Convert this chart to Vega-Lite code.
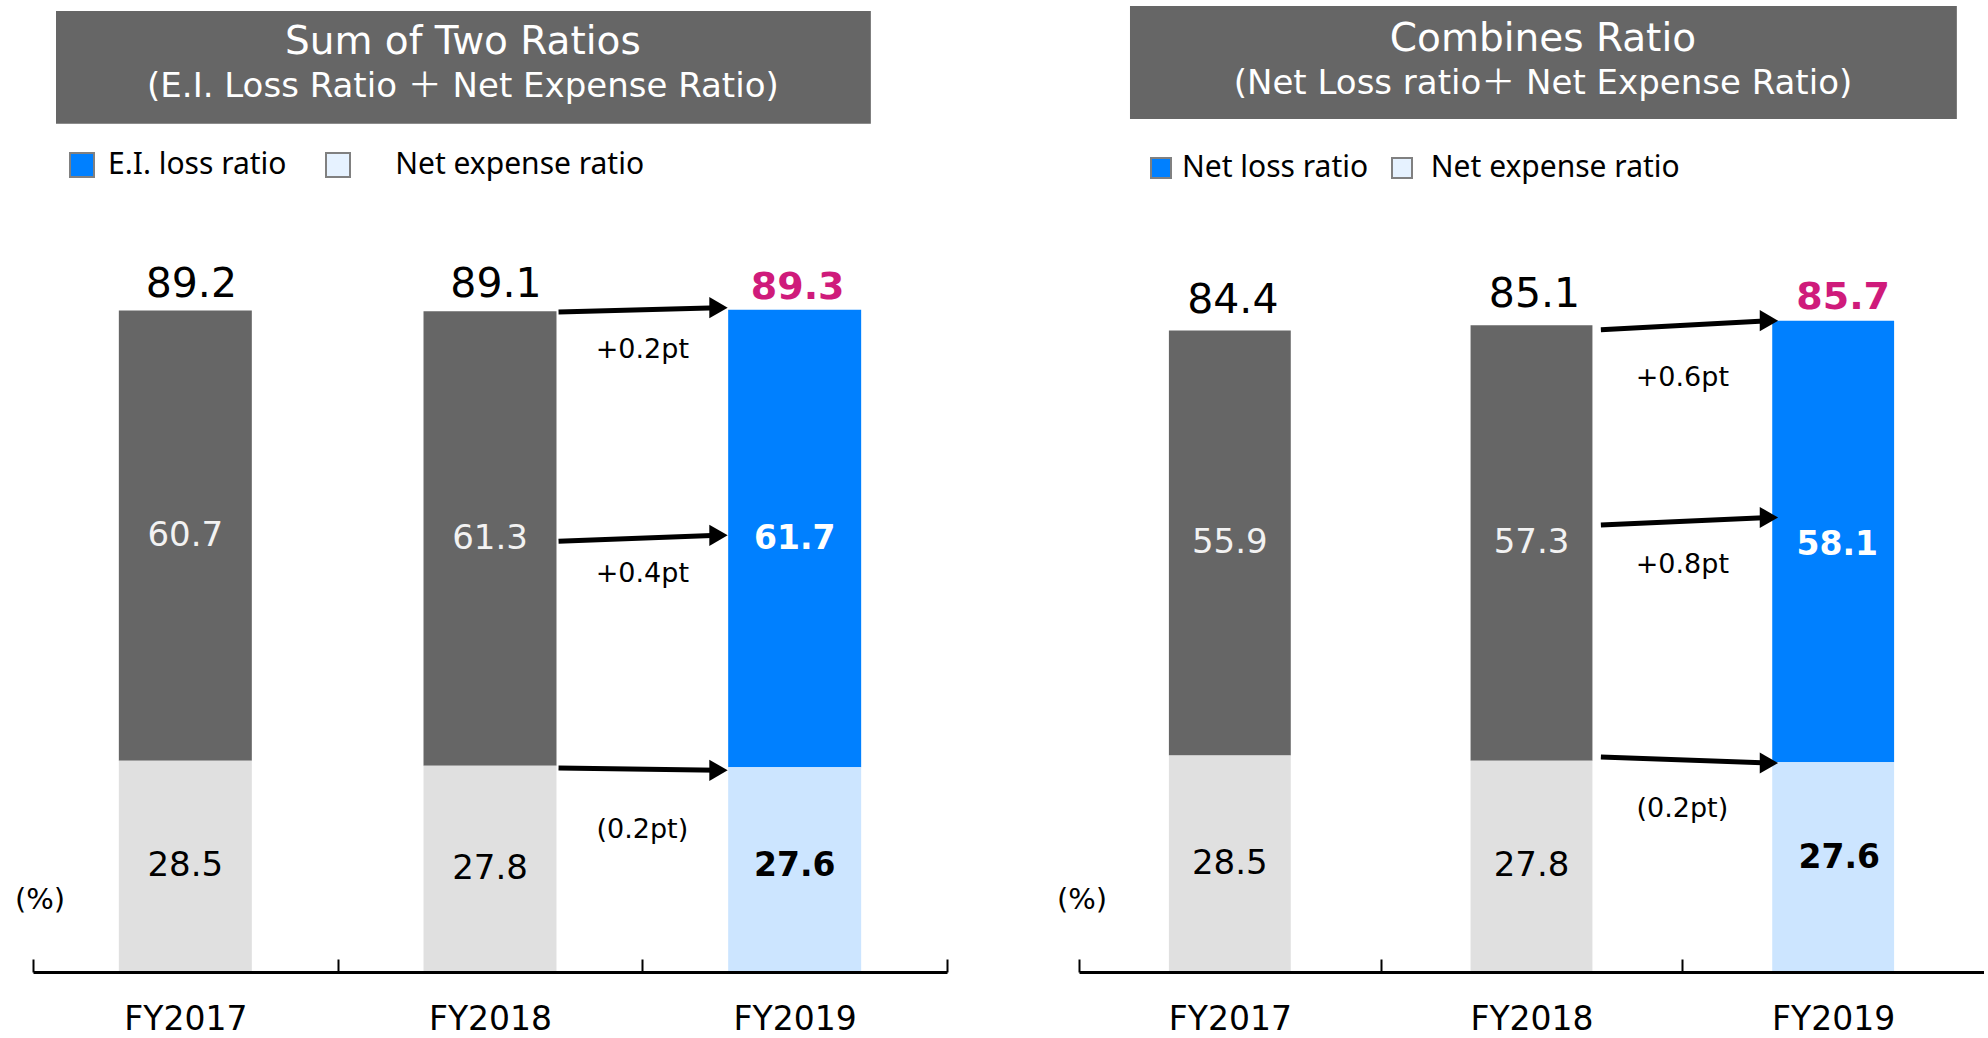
{
  "$schema": "https://vega.github.io/schema/vega-lite/v6.json",
  "background": "white",
  "padding": {"left": 14, "top": 6, "right": 0, "bottom": 0},
  "bounds": "flush",
  "spacing": 132,
  "datasets": {
    "sum": [
      {"year": "FY2017", "series": "E.I. loss ratio", "value": 60.7},
      {"year": "FY2017", "series": "Net expense ratio", "value": 28.5},
      {"year": "FY2018", "series": "E.I. loss ratio", "value": 61.3},
      {"year": "FY2018", "series": "Net expense ratio", "value": 27.8},
      {"year": "FY2019", "series": "E.I. loss ratio", "value": 61.7},
      {"year": "FY2019", "series": "Net expense ratio", "value": 27.6}
    ],
    "combined": [
      {"year": "FY2017", "series": "Net loss ratio", "value": 55.9},
      {"year": "FY2017", "series": "Net expense ratio", "value": 28.5},
      {"year": "FY2018", "series": "Net loss ratio", "value": 57.3},
      {"year": "FY2018", "series": "Net expense ratio", "value": 27.8},
      {"year": "FY2019", "series": "Net loss ratio", "value": 58.1},
      {"year": "FY2019", "series": "Net expense ratio", "value": 27.6}
    ],
    "arrowsL": [
      {"from": "FY2018", "to": "FY2019", "y1": 89.0, "y2": 89.6, "label": "+0.2pt", "ly": 83.9},
      {"from": "FY2018", "to": "FY2019", "y1": 58.1, "y2": 58.9, "label": "+0.4pt", "ly": 53.7},
      {"from": "FY2018", "to": "FY2019", "y1": 27.5, "y2": 27.2, "label": "(0.2pt)", "ly": 19.2}
    ],
    "arrowsR": [
      {"from": "FY2018", "to": "FY2019", "y1": 84.5, "y2": 85.7, "label": "+0.6pt", "ly": 78.2},
      {"from": "FY2018", "to": "FY2019", "y1": 58.8, "y2": 59.8, "label": "+0.8pt", "ly": 53.6},
      {"from": "FY2018", "to": "FY2019", "y1": 28.3, "y2": 27.5, "label": "(0.2pt)", "ly": 21.4}
    ]
  },
  "hconcat": [
    {
      "width": 914,
      "height": 966,
      "data": {"name": "sum"},
      "layer": [
        {
          "data": {"values": [{}]},
          "mark": {"type": "rect", "color": "#666666"},
          "encoding": {
            "x": {"datum": "FY2017", "bandPosition": 0.0755},
            "x2": {"datum": "FY2019", "bandPosition": 0.75},
            "y": {"datum": 129.6, "axis": null},
            "y2": {"datum": 114.4}
          }
        },
        {
          "data": {"values": [{}]},
          "mark": {"type": "text", "text": "Sum of Two Ratios", "font": "DejaVu Sans", "fontSize": 39, "color": "#FFFFFF", "baseline": "middle", "align": "center"},
          "encoding": {
            "x": {"datum": "FY2018", "bandPosition": 0.411},
            "y": {"datum": 125.4, "axis": null}
          }
        },
        {
          "data": {"values": [{}]},
          "mark": {"type": "text", "text": "(E.I. Loss Ratio ＋ Net Expense Ratio)", "font": "DejaVu Sans, Noto Sans CJK JP", "fontSize": 34, "color": "#FFFFFF", "baseline": "middle", "align": "center"},
          "encoding": {
            "x": {"datum": "FY2018", "bandPosition": 0.411},
            "y": {"datum": 119.35, "axis": null}
          }
        },
        {
          "mark": {"type": "bar", "width": {"band": 0.4365}},
          "encoding": {
            "x": {
              "field": "year", "type": "nominal", "sort": null,
              "scale": {"paddingInner": 0, "paddingOuter": 0},
              "axis": {"title": null, "domainColor": "#000000", "domainWidth": 3, "tickColor": "#000000", "tickWidth": 2, "tickSize": -13, "tickBand": "extent", "labelPadding": 60, "labelBaseline": "middle", "labelAlign": "center", "labelFontSize": 33, "labelColor": "#000000", "labelAngle": 0, "labelFont": "DejaVu Sans"}
            },
            "y": {"field": "value", "type": "quantitative", "stack": "zero", "scale": {"domain": [0, 130.28], "nice": false, "zero": true}, "axis": null},
            "color": {
              "field": "series", "type": "nominal",
              "scale": {"domain": ["E.I. loss ratio", "Net expense ratio"], "range": ["#0080FF", "#E6F2FF"]},
              "condition": [
                {"test": "datum.year !== 'FY2019' && datum.series === 'E.I. loss ratio'", "value": "#666666"},
                {"test": "datum.year !== 'FY2019' && datum.series === 'Net expense ratio'", "value": "#E0E0E0"},
                {"test": "datum.year === 'FY2019' && datum.series === 'Net expense ratio'", "value": "#CCE5FF"}
              ],
              "legend": {
                "orient": "none", "legendX": 34, "legendY": 144, "direction": "horizontal", "title": null,
                "symbolType": "square", "symbolSize": 576, "symbolStrokeColor": "#808080", "symbolStrokeWidth": 2,
                "labelFont": "Noto Sans", "labelFontSize": 30, "labelColor": "#000000", "labelOffset": 11, "columnPadding": 35, "labelLimit": 600,
                "labelExpr": "(datum.value === 'Net expense ratio' ? '\u200b\u00a0\u00a0\u00a0\u00a0' : '') + datum.label"
              }
            },
            "order": {"field": "series", "sort": "descending"}
          }
        },
        {
          "transform": [
            {"stack": "value", "groupby": ["year"], "sort": [{"field": "series", "order": "descending"}], "as": ["v0", "v1"]},
            {"calculate": "(datum.v0 + datum.v1) / 2", "as": "mid"}
          ],
          "layer": [
            {
              "transform": [{"filter": "datum.year !== 'FY2019' && datum.series === 'E.I. loss ratio'"}],
              "mark": {"type": "text", "font": "DejaVu Sans", "fontSize": 34, "color": "#F2F2F2", "baseline": "middle"},
              "encoding": {
                "x": {"field": "year", "type": "nominal", "title": null},
                "y": {"field": "mid", "type": "quantitative", "axis": null},
                "text": {"field": "value", "type": "quantitative", "format": ".1f"}
              }
            },
            {
              "transform": [{"filter": "datum.year !== 'FY2019' && datum.series === 'Net expense ratio'"}],
              "mark": {"type": "text", "font": "DejaVu Sans", "fontSize": 34, "color": "#000000", "baseline": "middle"},
              "encoding": {
                "x": {"field": "year", "type": "nominal", "title": null},
                "y": {"field": "mid", "type": "quantitative", "axis": null},
                "text": {"field": "value", "type": "quantitative", "format": ".1f"}
              }
            },
            {
              "transform": [{"filter": "datum.year === 'FY2019' && datum.series === 'E.I. loss ratio'"}],
              "mark": {"type": "text", "font": "DejaVu Sans", "fontSize": 33, "fontWeight": "bold", "color": "#FFFFFF", "baseline": "middle"},
              "encoding": {
                "x": {"field": "year", "type": "nominal", "title": null},
                "y": {"field": "mid", "type": "quantitative", "axis": null},
                "text": {"field": "value", "type": "quantitative", "format": ".1f"}
              }
            },
            {
              "transform": [{"filter": "datum.year === 'FY2019' && datum.series === 'Net expense ratio'"}],
              "mark": {"type": "text", "font": "DejaVu Sans", "fontSize": 33, "fontWeight": "bold", "color": "#000000", "baseline": "middle", "dy": -4},
              "encoding": {
                "x": {"field": "year", "type": "nominal", "title": null},
                "y": {"field": "mid", "type": "quantitative", "axis": null},
                "text": {"field": "value", "type": "quantitative", "format": ".1f"}
              }
            },
            {
              "transform": [{"filter": "datum.year !== 'FY2019' && datum.series === 'E.I. loss ratio'"}],
              "mark": {"type": "text", "font": "DejaVu Sans", "fontSize": 41, "color": "#000000", "baseline": "alphabetic", "dy": -14, "dx": 6},
              "encoding": {
                "x": {"field": "year", "type": "nominal", "title": null},
                "y": {"field": "v1", "type": "quantitative", "axis": null},
                "text": {"field": "v1", "type": "quantitative", "format": ".1f"}
              }
            },
            {
              "transform": [{"filter": "datum.year === 'FY2019' && datum.series === 'E.I. loss ratio'"}],
              "mark": {"type": "text", "font": "DejaVu Sans", "fontSize": 38, "fontWeight": "bold", "color": "#CF1B7B", "baseline": "alphabetic", "dy": -11, "dx": 3},
              "encoding": {
                "x": {"field": "year", "type": "nominal", "title": null},
                "y": {"field": "v1", "type": "quantitative", "axis": null},
                "text": {"field": "v1", "type": "quantitative", "format": ".1f"}
              }
            }
          ]
        },
        {
          "data": {"name": "arrowsL"},
          "layer": [
            {
              "mark": {"type": "rule", "color": "#000000", "strokeWidth": 5},
              "encoding": {
                "x": {"field": "from", "type": "nominal", "bandPosition": 0.725, "title": null},
                "x2": {"field": "to", "bandPosition": 0.25},
                "y": {"field": "y1", "type": "quantitative", "axis": null},
                "y2": {"field": "y2"}
              }
            },
            {
              "mark": {"type": "point", "shape": "triangle-right", "filled": true, "color": "#000000", "size": 450, "opacity": 1},
              "encoding": {
                "x": {"field": "to", "type": "nominal", "bandPosition": 0.25, "title": null},
                "y": {"field": "y2", "type": "quantitative", "axis": null}
              }
            },
            {
              "mark": {"type": "text", "font": "DejaVu Sans", "fontSize": 27, "color": "#000000", "baseline": "middle", "align": "center"},
              "encoding": {
                "x": {"field": "to", "type": "nominal", "bandPosition": 0, "title": null},
                "y": {"field": "ly", "type": "quantitative", "axis": null},
                "text": {"field": "label"}
              }
            }
          ]
        },
        {
          "data": {"values": [{}]},
          "mark": {"type": "text", "text": "(%)", "font": "DejaVu Sans", "fontSize": 29, "color": "#000000", "baseline": "middle", "align": "center"},
          "encoding": {
            "x": {"datum": "FY2017", "bandPosition": 0.023},
            "y": {"datum": 9.7, "axis": null}
          }
        }
      ]
    },
    {
      "width": 905,
      "height": 966,
      "data": {"name": "combined"},
      "layer": [
        {
          "data": {"values": [{}]},
          "mark": {"type": "rect", "color": "#666666"},
          "encoding": {
            "x": {"datum": "FY2017", "bandPosition": 0.169},
            "x2": {"datum": "FY2019", "bandPosition": 0.91},
            "y": {"datum": 127.1, "axis": null},
            "y2": {"datum": 112.24}
          }
        },
        {
          "data": {"values": [{}]},
          "mark": {"type": "text", "text": "Combines Ratio", "font": "DejaVu Sans", "fontSize": 39, "color": "#FFFFFF", "baseline": "middle", "align": "center"},
          "encoding": {
            "x": {"datum": "FY2018", "bandPosition": 0.538},
            "y": {"datum": 122.76, "axis": null}
          }
        },
        {
          "data": {"values": [{}]},
          "mark": {"type": "text", "text": "(Net Loss ratio＋ Net Expense Ratio)", "font": "DejaVu Sans, Noto Sans CJK JP", "fontSize": 34, "color": "#FFFFFF", "baseline": "middle", "align": "center"},
          "encoding": {
            "x": {"datum": "FY2018", "bandPosition": 0.538},
            "y": {"datum": 116.84, "axis": null}
          }
        },
        {
          "mark": {"type": "bar", "width": {"band": 0.404}},
          "encoding": {
            "x": {
              "field": "year", "type": "nominal", "sort": null,
              "scale": {"paddingInner": 0, "paddingOuter": 0},
              "axis": {"title": null, "domainColor": "#000000", "domainWidth": 3, "tickColor": "#000000", "tickWidth": 2, "tickSize": -13, "tickBand": "center", "tickOffset": -150.83, "labelOffset": 150.83, "labelPadding": 60, "labelBaseline": "middle", "labelAlign": "center", "labelFontSize": 33, "labelColor": "#000000", "labelAngle": 0, "labelFont": "DejaVu Sans"}
            },
            "y": {"field": "value", "type": "quantitative", "stack": "zero", "scale": {"domain": [0, 127.1], "nice": false, "zero": true}, "axis": null},
            "color": {
              "field": "series", "type": "nominal",
              "scale": {"domain": ["Net loss ratio", "Net expense ratio"], "range": ["#0080FF", "#E6F2FF"]},
              "condition": [
                {"test": "datum.year !== 'FY2019' && datum.series === 'Net loss ratio'", "value": "#666666"},
                {"test": "datum.year !== 'FY2019' && datum.series === 'Net expense ratio'", "value": "#E0E0E0"},
                {"test": "datum.year === 'FY2019' && datum.series === 'Net expense ratio'", "value": "#CCE5FF"}
              ],
              "legend": {
                "orient": "none", "legendX": 67, "legendY": 147, "direction": "horizontal", "title": null,
                "symbolType": "square", "symbolSize": 400, "symbolStrokeColor": "#808080", "symbolStrokeWidth": 2,
                "labelFont": "Noto Sans", "labelFontSize": 30, "labelColor": "#000000", "labelOffset": 6, "columnPadding": 18, "labelLimit": 600,
                "labelExpr": "(datum.value === 'Net expense ratio' ? '\u200b\u00a0' : '') + datum.label"
              }
            },
            "order": {"field": "series", "sort": "ascending"}
          }
        },
        {
          "transform": [
            {"stack": "value", "groupby": ["year"], "sort": [{"field": "series", "order": "ascending"}], "as": ["v0", "v1"]},
            {"calculate": "(datum.v0 + datum.v1) / 2", "as": "mid"}
          ],
          "layer": [
            {
              "transform": [{"filter": "datum.year !== 'FY2019' && datum.series === 'Net loss ratio'"}],
              "mark": {"type": "text", "font": "DejaVu Sans", "fontSize": 34, "color": "#F2F2F2", "baseline": "middle"},
              "encoding": {
                "x": {"field": "year", "type": "nominal", "title": null},
                "y": {"field": "mid", "type": "quantitative", "axis": null},
                "text": {"field": "value", "type": "quantitative", "format": ".1f"}
              }
            },
            {
              "transform": [{"filter": "datum.year !== 'FY2019' && datum.series === 'Net expense ratio'"}],
              "mark": {"type": "text", "font": "DejaVu Sans", "fontSize": 34, "color": "#000000", "baseline": "middle"},
              "encoding": {
                "x": {"field": "year", "type": "nominal", "title": null},
                "y": {"field": "mid", "type": "quantitative", "axis": null},
                "text": {"field": "value", "type": "quantitative", "format": ".1f"}
              }
            },
            {
              "transform": [{"filter": "datum.year === 'FY2019' && datum.series === 'Net loss ratio'"}],
              "mark": {"type": "text", "font": "DejaVu Sans", "fontSize": 33, "fontWeight": "bold", "color": "#FFFFFF", "baseline": "middle", "dx": 4, "dy": 4},
              "encoding": {
                "x": {"field": "year", "type": "nominal", "title": null},
                "y": {"field": "mid", "type": "quantitative", "axis": null},
                "text": {"field": "value", "type": "quantitative", "format": ".1f"}
              }
            },
            {
              "transform": [{"filter": "datum.year === 'FY2019' && datum.series === 'Net expense ratio'"}],
              "mark": {"type": "text", "font": "DejaVu Sans", "fontSize": 33, "fontWeight": "bold", "color": "#000000", "baseline": "middle", "dy": -9, "dx": 6},
              "encoding": {
                "x": {"field": "year", "type": "nominal", "title": null},
                "y": {"field": "mid", "type": "quantitative", "axis": null},
                "text": {"field": "value", "type": "quantitative", "format": ".1f"}
              }
            },
            {
              "transform": [{"filter": "datum.year !== 'FY2019' && datum.series === 'Net loss ratio'"}],
              "mark": {"type": "text", "font": "DejaVu Sans", "fontSize": 41, "color": "#000000", "baseline": "alphabetic", "dy": -18, "dx": 3},
              "encoding": {
                "x": {"field": "year", "type": "nominal", "title": null},
                "y": {"field": "v1", "type": "quantitative", "axis": null},
                "text": {"field": "v1", "type": "quantitative", "format": ".1f"}
              }
            },
            {
              "transform": [{"filter": "datum.year === 'FY2019' && datum.series === 'Net loss ratio'"}],
              "mark": {"type": "text", "font": "DejaVu Sans", "fontSize": 38, "fontWeight": "bold", "color": "#CF1B7B", "baseline": "alphabetic", "dy": -12, "dx": 10},
              "encoding": {
                "x": {"field": "year", "type": "nominal", "title": null},
                "y": {"field": "v1", "type": "quantitative", "axis": null},
                "text": {"field": "v1", "type": "quantitative", "format": ".1f"}
              }
            }
          ]
        },
        {
          "data": {"name": "arrowsR"},
          "layer": [
            {
              "mark": {"type": "rule", "color": "#000000", "strokeWidth": 5},
              "encoding": {
                "x": {"field": "from", "type": "nominal", "bandPosition": 0.73, "title": null},
                "x2": {"field": "to", "bandPosition": 0.287},
                "y": {"field": "y1", "type": "quantitative", "axis": null},
                "y2": {"field": "y2"}
              }
            },
            {
              "mark": {"type": "point", "shape": "triangle-right", "filled": true, "color": "#000000", "size": 450, "opacity": 1},
              "encoding": {
                "x": {"field": "to", "type": "nominal", "bandPosition": 0.287, "title": null},
                "y": {"field": "y2", "type": "quantitative", "axis": null}
              }
            },
            {
              "mark": {"type": "text", "font": "DejaVu Sans", "fontSize": 27, "color": "#000000", "baseline": "middle", "align": "center"},
              "encoding": {
                "x": {"field": "to", "type": "nominal", "bandPosition": 0, "title": null},
                "y": {"field": "ly", "type": "quantitative", "axis": null},
                "text": {"field": "label"}
              }
            }
          ]
        },
        {
          "data": {"values": [{}]},
          "mark": {"type": "text", "text": "(%)", "font": "DejaVu Sans", "fontSize": 29, "color": "#000000", "baseline": "middle", "align": "center"},
          "encoding": {
            "x": {"datum": "FY2017", "bandPosition": 0.01},
            "y": {"datum": 9.5, "axis": null}
          }
        }
      ]
    }
  ],
  "resolve": {
    "scale": {"color": "independent", "x": "independent", "y": "independent"},
    "legend": {"color": "independent"}
  },
  "config": {
    "font": "DejaVu Sans",
    "view": {"stroke": null},
    "axis": {"grid": false}
  }
}
